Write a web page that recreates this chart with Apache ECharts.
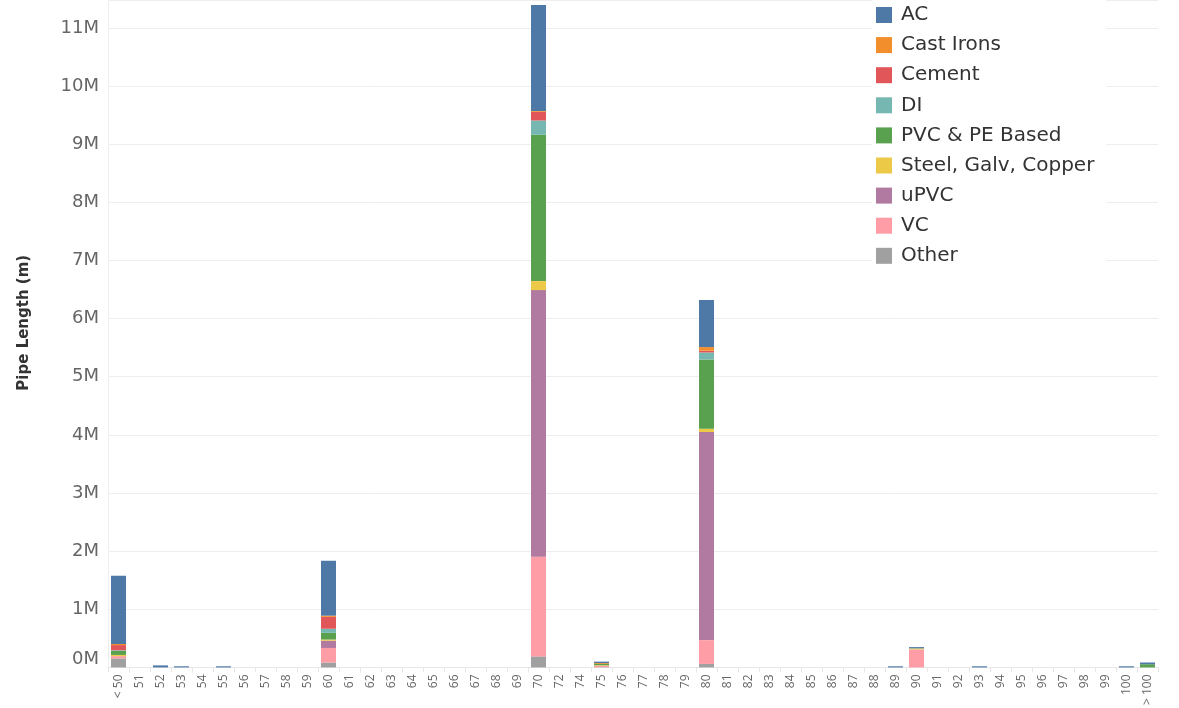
<!DOCTYPE html>
<html>
<head>
<meta charset="utf-8">
<script src="https://cdn.jsdelivr.net/npm/echarts@6/dist/echarts.min.js"></script>
<style>
  html, body { margin: 0; padding: 0; background: #fff; }
  #main { width: 1179px; height: 708px; }
</style>
</head>
<body>
<div id="main"></div>
<script>
// categories (pipe age buckets)
var categories = ['< 50', '51', '52', '53', '54', '55', '56', '57', '58', '59',
  '60', '61', '62', '63', '64', '65', '66', '67', '68', '69',
  '70', '72', '74', '75', '76', '77', '78', '79', '80', '81',
  '82', '83', '84', '85', '86', '87', '88', '89', '90', '91',
  '92', '93', '94', '95', '96', '97', '98', '99', '100', '> 100'];

// values in millions of metres
var acData = [1.17, 0, 0.035, 0.02, 0, 0.02, 0, 0, 0, 0,
  0.945, 0, 0, 0, 0, 0, 0, 0, 0, 0,
  1.82, 0, 0, 0.025, 0, 0, 0, 0, 0.81, 0,
  0, 0, 0, 0, 0, 0, 0, 0.02, 0.02, 0,
  0, 0.02, 0, 0, 0, 0, 0, 0, 0.02, 0.03];
var castIronData = [0.02, 0, 0, 0, 0, 0, 0, 0, 0, 0,
  0.02, 0, 0, 0, 0, 0, 0, 0, 0, 0,
  0.015, 0, 0, 0.015, 0, 0, 0, 0, 0.063, 0,
  0, 0, 0, 0, 0, 0, 0, 0, 0, 0,
  0, 0, 0, 0, 0, 0, 0, 0, 0, 0];
var cementData = [0.09, 0, 0, 0, 0, 0, 0, 0, 0, 0,
  0.205, 0, 0, 0, 0, 0, 0, 0, 0, 0,
  0.15, 0, 0, 0, 0, 0, 0, 0, 0.03, 0,
  0, 0, 0, 0, 0, 0, 0, 0, 0, 0,
  0, 0, 0, 0, 0, 0, 0, 0, 0, 0];
var diData = [0.01, 0, 0, 0, 0, 0, 0, 0, 0, 0,
  0.07, 0, 0, 0, 0, 0, 0, 0, 0, 0,
  0.245, 0, 0, 0, 0, 0, 0, 0, 0.12, 0,
  0, 0, 0, 0, 0, 0, 0, 0, 0, 0,
  0, 0, 0, 0, 0, 0, 0, 0, 0, 0];
var pvcPeData = [0.07, 0, 0, 0, 0, 0, 0, 0, 0, 0,
  0.115, 0, 0, 0, 0, 0, 0, 0, 0, 0,
  2.517, 0, 0, 0.02, 0, 0, 0, 0, 1.19, 0,
  0, 0, 0, 0, 0, 0, 0, 0, 0.005, 0,
  0, 0, 0, 0, 0, 0, 0, 0, 0, 0.055];
var steelData = [0.02, 0, 0, 0, 0, 0, 0, 0, 0, 0,
  0.02, 0, 0, 0, 0, 0, 0, 0, 0, 0,
  0.155, 0, 0, 0.01, 0, 0, 0, 0, 0.057, 0,
  0, 0, 0, 0, 0, 0, 0, 0, 0.015, 0,
  0, 0, 0, 0, 0, 0, 0, 0, 0, 0];
var upvcData = [0, 0, 0, 0, 0, 0, 0, 0, 0, 0,
  0.125, 0, 0, 0, 0, 0, 0, 0, 0, 0,
  4.585, 0, 0, 0.005, 0, 0, 0, 0, 3.58, 0,
  0, 0, 0, 0, 0, 0, 0, 0, 0, 0,
  0, 0, 0, 0, 0, 0, 0, 0, 0, 0];
var vcData = [0.04, 0, 0, 0, 0, 0, 0, 0, 0, 0,
  0.25, 0, 0, 0, 0, 0, 0, 0, 0, 0,
  1.715, 0, 0, 0.02, 0, 0, 0, 0, 0.41, 0,
  0, 0, 0, 0, 0, 0, 0, 0, 0.31, 0,
  0, 0, 0, 0, 0, 0, 0, 0, 0, 0];
var otherData = [0.155, 0, 0, 0, 0, 0, 0, 0, 0, 0,
  0.085, 0, 0, 0, 0, 0, 0, 0, 0, 0,
  0.19, 0, 0, 0.005, 0, 0, 0, 0, 0.06, 0,
  0, 0, 0, 0, 0, 0, 0, 0, 0, 0,
  0, 0, 0, 0, 0, 0, 0, 0, 0, 0];

var legendNames = ['AC', 'Cast Irons', 'Cement', 'DI', 'PVC & PE Based',
  'Steel, Galv, Copper', 'uPVC', 'VC', 'Other'];

// stack order bottom -> top
var stackSeries = [
  { name: 'Other', data: otherData, color: '#a0a0a0' },
  { name: 'VC', data: vcData, color: '#ff9da7' },
  { name: 'uPVC', data: upvcData, color: '#b07aa1' },
  { name: 'Steel, Galv, Copper', data: steelData, color: '#edc948' },
  { name: 'PVC & PE Based', data: pvcPeData, color: '#59a14f' },
  { name: 'DI', data: diData, color: '#76b7b2' },
  { name: 'Cement', data: cementData, color: '#e15759' },
  { name: 'Cast Irons', data: castIronData, color: '#f28e2b' },
  { name: 'AC', data: acData, color: '#4e79a7' }
];

var chart = echarts.init(document.getElementById('main'));

var series = stackSeries.map(function (s) {
  return {
    name: s.name,
    type: 'bar',
    stack: 'total',
    barWidth: 15,
    data: s.data,
    itemStyle: { color: s.color }
  };
});

var option = {
  animation: false,
  textStyle: { fontFamily: 'DejaVu Sans' },
  grid: { left: 108, right: 21, top: 0, bottom: 39 },
  legend: {
    data: legendNames,
    orient: 'vertical',
    left: 872,
    top: 0,
    icon: 'rect',
    itemWidth: 16,
    itemHeight: 16,
    itemGap: 10.1,
    padding: [5, 12, 6, 4],
    backgroundColor: '#fff',
    textStyle: { fontSize: 20, color: '#333', lineHeight: 20, padding: [0, 0, 0, 4] }
  },
  xAxis: {
    type: 'category',
    data: categories,
    axisLine: { lineStyle: { color: '#e6e6e6' } },
    axisTick: { show: true, length: 5, lineStyle: { color: '#e6e6e6' } },
    axisLabel: { rotate: 90, fontSize: 12, fontFamily: 'Open Sans', color: '#666', margin: 7, interval: 0 }
  },
  yAxis: {
    type: 'value',
    min: 0,
    max: 11.48,
    interval: 1,
    name: 'Pipe Length (m)',
    nameLocation: 'middle',
    nameGap: 76,
    nameTextStyle: { fontSize: 15, fontWeight: 'bold', color: '#333', padding: [0, 0, 0, 22] },
    axisLine: { show: true, lineStyle: { color: '#eeeeee' } },
    axisTick: { show: false },
    splitLine: { lineStyle: { color: '#eeeeee' } },
    axisLabel: {
      fontSize: 18,
      color: '#666',
      margin: 9,
      formatter: function (v) {
        if (v === 0) return '{z|0M}';
        if (Math.abs(v - Math.round(v)) > 1e-6) return '';
        return Math.round(v) + 'M';
      },
      rich: { z: { fontSize: 18, color: '#666', padding: [0, 0, 17, 0] } }
    }
  },
  series: series
};

chart.setOption(option);
</script>
</body>
</html>
